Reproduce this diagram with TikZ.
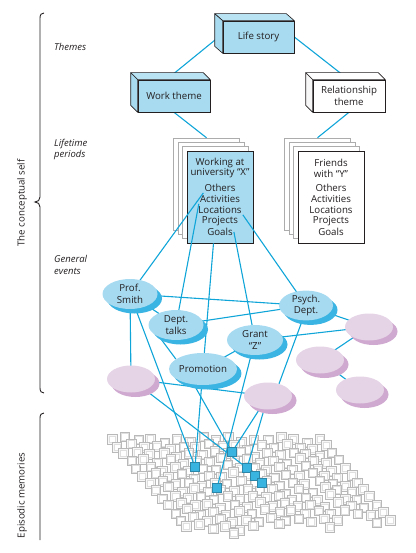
\documentclass[tikz,border=0pt]{standalone}
\usepackage{fontspec}
\setmainfont{Open Sans}
\usetikzlibrary{shapes.geometric,shadows}
\definecolor{txt}{HTML}{231F20}
\definecolor{boxblue}{HTML}{A8DBF0}
\definecolor{evblue}{HTML}{A6DAF1}
\definecolor{evshadow}{HTML}{3AB4E2}
\definecolor{pinkf}{HTML}{E5D3E6}
\definecolor{pinks}{HTML}{CFA9CF}
\definecolor{lineblue}{HTML}{10A5D8}
\definecolor{hlblue}{HTML}{39B3E0}
\pgfdeclarelayer{bg}
\pgfdeclarelayer{mid}
\pgfsetlayers{bg,mid,main}
\newcommand\mkextrude[5]{%
  \draw[line width=0.6pt, draw=txt, fill=#4, line join=round] (#1.north west) -- ++(#2,#3) -- ([shift={(#2,#3)}]#1.north east) -- (#1.north east) -- cycle;
  \draw[line width=0.6pt, draw=txt, fill=#5, line join=round] (#1.north west) -- ++(#2,#3) -- ([shift={(#2,#3)}]#1.south west) -- (#1.south west) -- cycle;}
\begin{document}
\begin{tikzpicture}[x=1pt,y=-1pt,
  font=\fontsize{9.7}{11.4}\selectfont,
  box3d/.style={draw=txt, line width=0.6pt, fill=boxblue, minimum width=71pt, minimum height=32pt, inner sep=1pt, align=center, text=txt},
  card/.style={draw=gray!65, fill=white, line width=0.5pt, minimum width=66pt, minimum height=92pt, inner sep=0pt},
  ctext/.style={inner sep=1pt, text=txt},
  ev/.style={ellipse, fill=evblue, general shadow={fill=evshadow, shadow xshift=4.5pt, shadow yshift=-4.5pt}, inner sep=0pt, align=center, text=txt, minimum width=55pt, minimum height=30pt},
  pk/.style={ellipse, fill=pinkf, general shadow={fill=pinks, shadow xshift=4.5pt, shadow yshift=-4.5pt}, inner sep=0pt, minimum width=48pt, minimum height=27pt},
  conn/.style={draw=lineblue, line width=1.1pt},
  hsq/.style={draw=hlblue!75!black, fill=hlblue, minimum size=9pt, inner sep=0pt, line width=0.4pt},
  lab/.style={font=\fontsize{9.5}{11.4}\selectfont\itshape, anchor=west, align=left, text=txt, inner sep=0pt},
  sqo/.style={draw=gray!55, fill=gray!6, line width=0.45pt},
  sqi/.style={draw=gray!25, fill=white, line width=0.35pt},
  brace/.style={draw=txt, line width=0.9pt}
]
\useasboundingbox (0,0) rectangle (415,553);

% ---------- background layer: cards and memory grid ----------
\begin{pgfonlayer}{bg}
\node[card] (wb3) at (206.5,184) {};
\node[card] (wb2) at (211,188.3) {};
\node[card] (wb1) at (215.5,192.7) {};
\node[card, fill=boxblue, draw=txt, line width=0.6pt] (wf) at (220,197) {};
\node[ctext] (w1) at (220,162.5) {Working at};
\node[ctext] (w2) at (220,173.5) {university “X”};
\node[ctext] (w3) at (220,188) {Others};
\node[ctext] (w4) at (220,199) {Activities};
\node[ctext] (w5) at (220,210) {Locations};
\node[ctext] (w6) at (220,221) {Projects};
\node[ctext] (w7) at (220,232) {Goals};

\node[card] (fb3) at (317.5,184) {};
\node[card] (fb2) at (322,188.3) {};
\node[card] (fb1) at (326.5,192.7) {};
\node[card, draw=txt, line width=0.6pt] (ff) at (331,197) {};
\node[ctext] (f1) at (331,162.5) {Friends};
\node[ctext] (f2) at (331,173.5) {with “Y”};
\node[ctext] (f3) at (331,188) {Others};
\node[ctext] (f4) at (331,199) {Activities};
\node[ctext] (f5) at (331,210) {Locations};
\node[ctext] (f6) at (331,221) {Projects};
\node[ctext] (f7) at (331,232) {Goals};

\pgfmathsetseed{42}
\foreach \j in {0,...,13}{
  \foreach \c/\n/\yy in {0/13/0,1/13/-3,2/13/1,3/14/-2,4/13/2,5/13/-1,6/12/1,7/13/-3,8/12/0,9/12/-2,10/12/2,11/13/-1,12/12/1,13/11/-3,14/11/0,15/12/2,16/12/-1}{
    \ifnum\j<\n\relax
      \pgfmathsetmacro\sx{107+13*\c+6.3*\j+rand*1.2}
      \pgfmathsetmacro\sy{435+\yy+7.3*\j+rand*1.2}
      \draw[sqo] (\sx,\sy) rectangle ++(9.5,9.5);
      \draw[sqi] (\sx+1.5,\sy+1.5) rectangle ++(6.5,6.5);
    \fi
  }
}
\end{pgfonlayer}

% ---------- main layer: boxes, ellipses, highlighted squares ----------
\node[box3d] (life) at (258.5,37) {Life story};
\mkextrude{life}{-8}{-7}{boxblue!80!white}{boxblue}
\node[box3d, minimum width=72pt] (work) at (174,96) {Work theme};
\mkextrude{work}{-7}{-7}{boxblue!80!white}{boxblue}
\node[box3d, minimum width=72pt, fill=white] (rel) at (349,96) {Relationship\\theme};
\mkextrude{rel}{-7}{-7}{white}{gray!6}

\node[ev] (smith) at (130,294) {Prof.\\Smith};
\node[ev] (dept) at (176,325) {Dept.\\talks};
\node[ev, minimum width=54pt, minimum height=29pt] (psych) at (306,305.5) {Psych.\\Dept.};
\node[ev, minimum width=56pt] (grant) at (255,340) {Grant\\“Z”};
\node[ev, minimum width=61pt, minimum height=32pt] (promo) at (203,369) {Promotion};
\node[pk] (p1) at (131,379) {};
\node[pk] (p2) at (268,396) {};
\node[pk] (p3) at (369,327) {};
\node[pk] (p4) at (320,360) {};
\node[pk] (p5) at (360,390) {};

\node[hsq] (h1) at (195,467) {};
\node[hsq] (h2) at (232,452) {};
\node[hsq] (h3) at (247,468) {};
\node[hsq] (h4) at (255,475.5) {};
\node[hsq] (h5) at (262,483) {};
\node[hsq] (h6) at (217,488) {};

% ---------- connectors ----------
\begin{pgfonlayer}{mid}
\draw[conn] ([xshift=-4pt]life.west) -- ([xshift=-4pt,yshift=3pt]work.north);
\draw[conn] (life.east) -- ([xshift=-4pt,yshift=3pt]rel.north);
\draw[conn] (work.south) -- (wb3.north);
\draw[conn] (rel.south) -- (fb3.north);
\draw[conn] (w3.south west) -- (smith.center);
\draw[conn] (w4.south west) -- (dept.center);
\draw[conn] (wf.262) -- (promo.center);
\draw[conn] (w7.east) -- (grant.center);
\draw[conn] (w5.south east) -- (psych.center);
\draw[conn] (smith.center) -- (psych.center);
\draw[conn] (dept.center) -- (psych.center);
\draw[conn] (grant.center) -- (p3.center);
\draw[conn] (psych.center) -- (p3.center);
\draw[conn] (p3.center) -- (p4.center);
\draw[conn] (p4.center) -- (p5.center);
\draw[conn] (smith.center) -- (dept.center);
\draw[conn] (dept.217) -- (promo.160);
\draw[conn] (grant.center) -- (promo.center);
\draw[conn] (smith.center) -- (p1.center);
\draw[conn] (p1.center) -- (p2.center);
\draw[conn] (psych.256) -- (p2.48);
\draw[conn] (smith.center) -- (h1.center);
\draw[conn] (p1.center) -- (h3.center);
\draw[conn] (promo.center) -- (h1.center);
\draw[conn] (promo.240) -- (h2.center);
\draw[conn] (grant.center) -- (h6.center);
\draw[conn] (p2.center) -- (h2.center);
\draw[conn] (p2.center) -- (h3.center);
\end{pgfonlayer}

% ---------- braces and labels ----------
\draw[brace] (44,13) .. controls (41.5,13) and (40,14.5) .. (40,18) -- (40,197) .. controls (40,200) and (38,202) .. (35,202) .. controls (38,202) and (40,204) .. (40,207) -- (40,388) .. controls (40,391.5) and (41.5,393) .. (44,393);
\draw[brace] (44,413) .. controls (41.5,413) and (40,414.5) .. (40,418) -- (40,540);
\node[rotate=90, text=txt, inner sep=0pt] (tcs) at (22,203) {The conceptual self};
\node[rotate=90, text=txt, inner sep=0pt] (tem) at (22,495.5) {Episodic memories};
\node[lab] (lthemes) at (54,47) {Themes};
\node[lab] (lperiods) at (54,149.5) {Lifetime\\periods};
\node[lab] (levents) at (54,265) {General\\events};
\end{tikzpicture}
\end{document}
